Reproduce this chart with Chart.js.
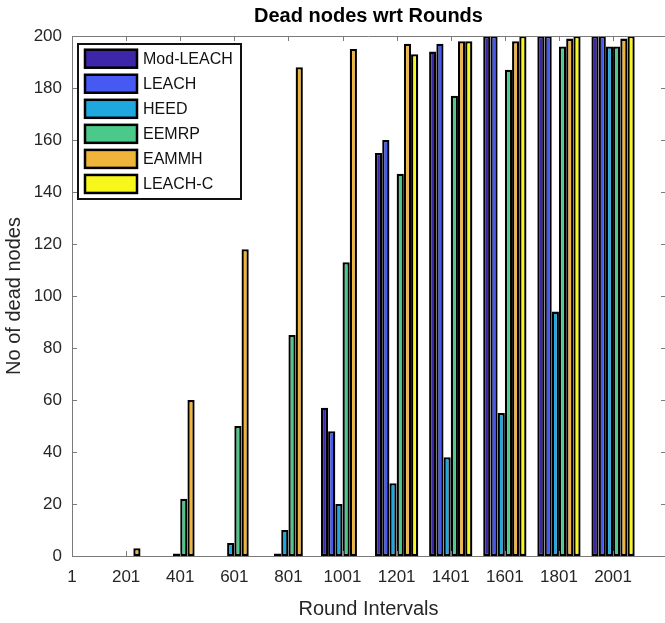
<!DOCTYPE html>
<html>
<head>
<meta charset="utf-8">
<title>Dead nodes wrt Rounds</title>
<script src="https://cdn.jsdelivr.net/npm/chart.js@4.4.1/dist/chart.umd.min.js"></script>
<style>
  html, body { margin: 0; padding: 0; background: #fff; }
</style>
</head>
<body>
<canvas id="deadChart" width="665" height="623"></canvas>
<script>
// data
const rounds = [1, 201, 401, 601, 801, 1001, 1201, 1401, 1601, 1801, 2001];
const seriesNames = ['Mod-LEACH', 'LEACH', 'HEED', 'EEMRP', 'EAMMH', 'LEACH-C'];
const modLeach = [0, 0, 0, 0, 0, 57, 155, 194, 200, 200, 200];
const leach    = [0, 0, 0, 0, 1, 48, 160, 197, 200, 200, 200];
const heed     = [0, 0, 1, 5, 10, 20, 28, 38, 55, 94, 196];
const eemrp    = [0, 0, 22, 50, 85, 113, 147, 177, 187, 196, 196];
const eammh    = [0, 3, 60, 118, 188, 195, 197, 198, 198, 199, 199];
const leachC   = [0, 0, 0, 0, 0, 0, 193, 198, 200, 200, 200];
const yTicks = [0, 20, 40, 60, 80, 100, 120, 140, 160, 180, 200];

const seriesValues = [modLeach, leach, heed, eemrp, eammh, leachC];
const colors = ['#3e26a8', '#4659f2', '#1ea8df', '#4bc98a', '#f0b43a', '#f7f71c'];

const FONT = "'Liberation Sans', Arial, Helvetica, sans-serif";
Chart.defaults.font.family = FONT;

// MATLAB-like box, inward ticks, legend and title
const matlabFrame = {
    id: 'matlabFrame',
    afterDraw(chart) {
        const { ctx, chartArea: a, scales: { x, y } } = chart;
        ctx.save();
        ctx.strokeStyle = '#7a7a7a';
        ctx.lineWidth = 1;
        ctx.beginPath();
        ctx.moveTo(a.left, a.top + 0.5);
        ctx.lineTo(a.right, a.top + 0.5);
        x.ticks.forEach(t => {
            const px = Math.round(x.getPixelForValue(t.value)) + 0.5;
            ctx.moveTo(px, a.bottom);
            ctx.lineTo(px, a.bottom - 5);
            ctx.moveTo(px, a.top);
            ctx.lineTo(px, a.top + 5);
        });
        y.ticks.forEach(t => {
            const py = Math.round(y.getPixelForValue(t.value)) + 0.5;
            ctx.moveTo(a.left, py);
            ctx.lineTo(a.left + 5, py);
            ctx.moveTo(a.right, py);
            ctx.lineTo(a.right - 4, py);
        });
        ctx.stroke();

        // legend box
        ctx.fillStyle = '#fff';
        ctx.fillRect(77, 43, 165, 157);
        ctx.strokeStyle = '#111';
        ctx.lineWidth = 2;
        ctx.strokeRect(78, 44, 163, 155);
        ctx.font = '16px ' + FONT;
        ctx.textBaseline = 'middle';
        ctx.textAlign = 'left';
        chart.data.datasets.forEach((ds, i) => {
            const cy = 58.7 + i * 25.05;
            ctx.fillStyle = ds.backgroundColor;
            ctx.fillRect(85, cy - 9, 52, 18);
            ctx.lineWidth = 2.5;
            ctx.strokeStyle = '#000';
            ctx.strokeRect(85, cy - 9, 52, 18);
            ctx.fillStyle = '#111';
            ctx.fillText(ds.label, 143, cy + 1);
        });

        // title
        ctx.font = 'bold 20px ' + FONT;
        ctx.textAlign = 'center';
        ctx.fillStyle = '#000';
        ctx.fillText('Dead nodes wrt Rounds', (a.left + a.right) / 2, 16);
        ctx.restore();
    }
};

const ctx = document.getElementById('deadChart').getContext('2d');
const deadChart = new Chart(ctx, {
    type: 'bar',
    data: {
        datasets: seriesNames.map((name, i) => ({
            label: name,
            data: rounds.map((r, j) => ({ x: r, y: seriesValues[i][j] })),
            backgroundColor: colors[i],
            borderColor: '#000',
            borderWidth: 2.3,
            borderSkipped: false,
            categoryPercentage: 0.8,
            barPercentage: 1.0
        }))
    },
    options: {
        responsive: false,
        animation: false,
        layout: { padding: { top: 36, right: 0, bottom: 0, left: 0 } },
        plugins: {
            legend: { display: false },
            tooltip: { enabled: false },
            title: { display: false }
        },
        scales: {
            x: {
                type: 'linear',
                min: 1,
                max: 2193,
                offset: false,
                afterBuildTicks: axis => { axis.ticks = rounds.map(v => ({ value: v })); },
                afterFit: scale => { scale.height = 67; },
                grid: { display: false, drawTicks: false },
                border: { display: true, color: '#7a7a7a', width: 1 },
                ticks: {
                    padding: 11,
                    color: '#262626',
                    font: { size: 17 },
                    maxRotation: 0,
                    autoSkip: false,
                    callback: v => String(v)
                },
                title: {
                    display: true,
                    text: 'Round Intervals',
                    color: '#262626',
                    font: { size: 20 },
                    padding: { top: 0, bottom: 2 }
                }
            },
            y: {
                min: 0,
                max: 200,
                afterBuildTicks: axis => { axis.ticks = yTicks.map(v => ({ value: v })); },
                afterFit: scale => { scale.width = 72; },
                grid: { display: false, drawTicks: false },
                border: { display: true, color: '#7a7a7a', width: 1 },
                ticks: {
                    padding: 10,
                    color: '#262626',
                    font: { size: 17 }
                },
                title: {
                    display: true,
                    text: 'No of dead nodes',
                    color: '#262626',
                    font: { size: 20 },
                    padding: { top: 2, bottom: 0 }
                }
            }
        }
    },
    plugins: [matlabFrame]
});
</script>
</body>
</html>
